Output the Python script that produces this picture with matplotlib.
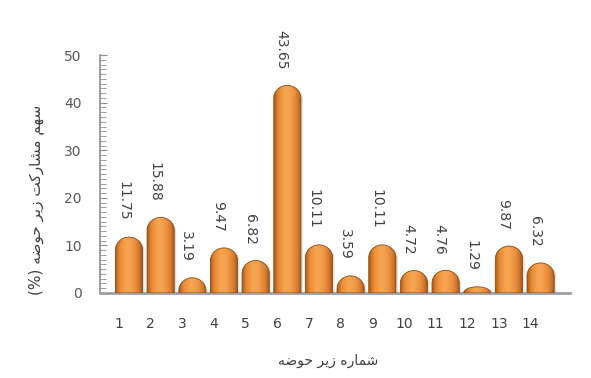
import numpy as np
import matplotlib
matplotlib.use("Agg")
import matplotlib.pyplot as plt
from matplotlib.path import Path
from matplotlib.patches import PathPatch
from matplotlib.colors import LinearSegmentedColormap
import matplotlib.transforms as mtransforms

# ---------------- data ----------------
categories = [str(i) for i in range(1, 15)]
values = [11.75, 15.88, 3.19, 9.47, 6.82, 43.65, 10.11, 3.59, 10.11, 4.72, 4.76, 1.29, 9.87, 6.32]
value_labels = ["11.75", "15.88", "3.19", "9.47", "6.82", "43.65", "10.11", "3.59",
                "10.11", "4.72", "4.76", "1.29", "9.87", "6.32"]
y_ticks = [0, 10, 20, 30, 40, 50]
y_label = "سهم مشارکت زیر حوضه (%)"
x_label = "شماره زیر حوضه"

# ---------------- simple Arabic/Persian shaping for display ----------------
FORMS = {
    'س': ('\uFEB1', '\uFEB2', '\uFEB3', '\uFEB4'),
    'ش': ('\uFEB5', '\uFEB6', '\uFEB7', '\uFEB8'),
    'ه': ('\uFEE9', '\uFEEA', '\uFEEB', '\uFEEC'),
    'م': ('\uFEE1', '\uFEE2', '\uFEE3', '\uFEE4'),
    'ا': ('\uFE8D', '\uFE8E', None, None),
    'ر': ('\uFEAD', '\uFEAE', None, None),
    'ز': ('\uFEAF', '\uFEB0', None, None),
    'و': ('\uFEED', '\uFEEE', None, None),
    'ک': ('\uFB8E', '\uFB8F', '\uFB90', '\uFB91'),
    'ت': ('\uFE95', '\uFE96', '\uFE97', '\uFE98'),
    'ی': ('\uFBFC', '\uFBFD', '\uFBFE', '\uFBFF'),
    'ح': ('\uFEA1', '\uFEA2', '\uFEA3', '\uFEA4'),
    'ض': ('\uFEBD', '\uFEBE', '\uFEBF', '\uFEC0'),
}


def shape_word(word):
    out = []
    n = len(word)
    for i, ch in enumerate(word):
        if ch not in FORMS:
            out.append(ch)
            continue
        prev = word[i - 1] if i > 0 else None
        nxt = word[i + 1] if i < n - 1 else None
        joins_prev = prev in FORMS and FORMS[prev][2] is not None
        joins_next = nxt in FORMS and FORMS[ch][2] is not None
        iso, fin, ini, med = FORMS[ch]
        if joins_prev and joins_next:
            out.append(med)
        elif joins_prev:
            out.append(fin)
        elif joins_next:
            out.append(ini)
        else:
            out.append(iso)
    return ''.join(out)


def rtl(text):
    words = text.split(' ')
    shaped = []
    for w in words:
        if any(c in FORMS for c in w):
            shaped.append(shape_word(w)[::-1])
        else:
            shaped.append(w)
    return ' '.join(shaped[::-1])


# ---------------- figure ----------------
fig = plt.figure(figsize=(5.91, 3.78), dpi=100)
ax = fig.add_axes([0.169, 0.225, 0.795, 0.629])

x = np.arange(1, len(values) + 1)
width = 0.86
cap_px = 13.0

ax.set_xlim(0.08, 14.92)
ax.set_ylim(0, 50)
fig.canvas.draw()
px_per_unit = ax.transData.transform((0, 1))[1] - ax.transData.transform((0, 0))[1]
cap = cap_px / px_per_unit

cmap = LinearSegmentedColormap.from_list(
    "cyl", ["#a5571a", "#e3842f", "#f29a45", "#f6a552", "#f3a04c", "#ec9040", "#d47a2c", "#9c5218"])
grad = np.linspace(0, 1, 256).reshape(1, -1)

for xi, v in zip(x, values):
    r = min(cap, v)
    x0, x1 = xi - width / 2, xi + width / 2
    t = np.linspace(np.pi, 0, 40)
    arc_x = xi + (width / 2) * np.cos(t)
    arc_y = (v - r) + r * np.sin(t)
    verts = [(x0, 0)] + list(zip(arc_x, arc_y)) + [(x1, 0), (x0, 0)]
    codes = [Path.MOVETO] + [Path.LINETO] * (len(verts) - 2) + [Path.CLOSEPOLY]
    path = Path(verts, codes)
    shadow = PathPatch(path, facecolor="#a0a0a0", edgecolor="none", alpha=0.3,
                       transform=ax.transData + mtransforms.ScaledTranslation(2 / 100, -1 / 100, fig.dpi_scale_trans),
                       zorder=2)
    ax.add_patch(shadow)
    patch = PathPatch(path, facecolor="none", edgecolor="#8a4a14", linewidth=0.6, zorder=4)
    ax.add_patch(patch)
    im = ax.imshow(grad, cmap=cmap, extent=[x0, x1, 0, v], aspect="auto",
                   interpolation="bicubic", zorder=3)
    im.set_clip_path(patch)

# value labels
lab_off = mtransforms.offset_copy(ax.transData, fig=fig, x=-6, y=16, units="dots")
for xi, v, s in zip(x, values, value_labels):
    ax.text(xi, v, s, rotation=270, ha="center", va="bottom", fontsize=10,
            color="#404040", transform=lab_off, zorder=5)

ax.set_xlim(0.08, 14.92)
ax.set_ylim(0, 50)

for sp in ["top", "right"]:
    ax.spines[sp].set_visible(False)
ax.spines["left"].set_color("#8c8c8c")
ax.spines["left"].set_linewidth(1.2)
ax.spines["bottom"].set_color("#a0a0a0")
ax.spines["bottom"].set_linewidth(2.0)

ax.set_yticks(y_ticks)
ax.set_yticks(np.arange(0, 51, 1), minor=True)
ax.tick_params(axis="y", which="major", direction="in", length=5, color="#8c8c8c",
               labelsize=10, labelcolor="#595959", pad=13)
ax.tick_params(axis="y", which="minor", direction="in", length=4, color="#8c8c8c")

ax.set_xticks(x)
ax.set_xticklabels(categories)
ax.tick_params(axis="x", length=0, labelsize=10, labelcolor="#404040", pad=17)
xoff = mtransforms.ScaledTranslation(-10 / 100, 0, fig.dpi_scale_trans)
for lbl in ax.get_xticklabels():
    lbl.set_transform(lbl.get_transform() + xoff)

fig.text(0.062, 0.47, rtl(y_label), rotation=90, ha="center", va="center",
         fontsize=11, color="#404040", family="DejaVu Sans")
fig.text(0.555, 0.045, rtl(x_label), ha="center", va="center",
         fontsize=10, color="#404040", family="DejaVu Sans")

fig.savefig("out.png", dpi=100, facecolor="white")
